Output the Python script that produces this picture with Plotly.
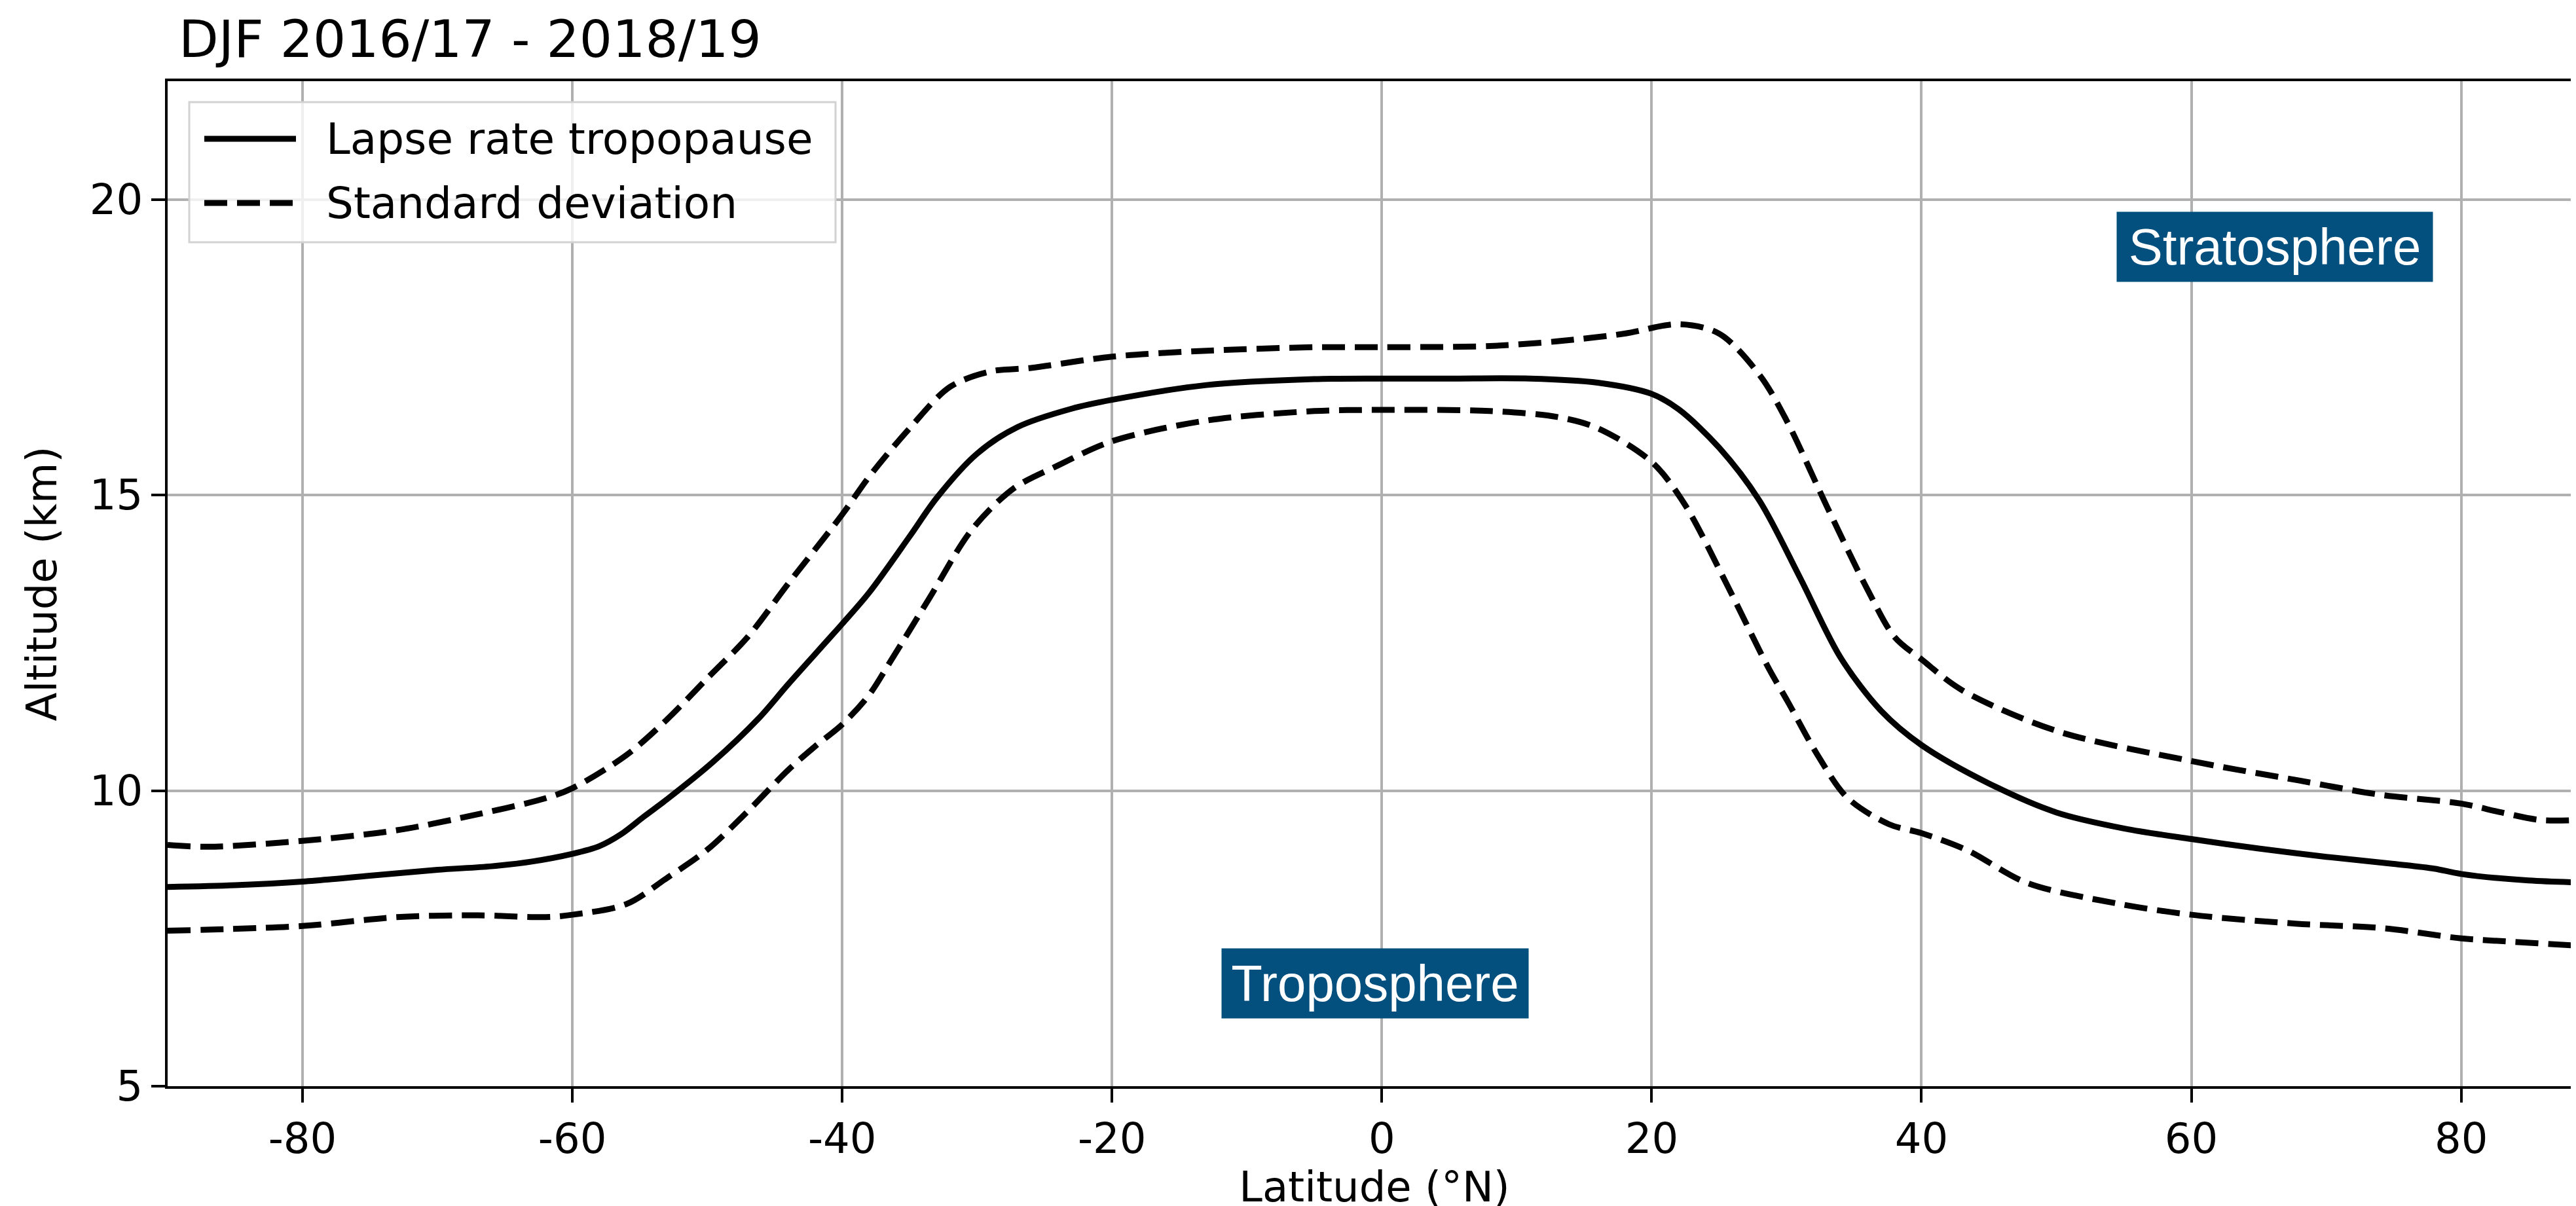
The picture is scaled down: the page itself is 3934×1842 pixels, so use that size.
import plotly.graph_objects as go

# ---------------- data ----------------
lat_mean = [-90, -85, -80, -75, -70, -66, -63, -60, -58, -56.4, -54.7, -53, -49.6, -46.2, -44, -40,
            -38, -35, -33, -30, -27, -23, -20, -13, -5, 0, 5, 11, 16, 20, 22, 25, 28, 31, 34, 37,
            40, 45, 50, 55, 60, 65, 70, 75, 78, 80, 85, 90]
alt_mean = [8.37, 8.40, 8.46, 8.56, 8.66, 8.72, 8.80, 8.93, 9.06, 9.26, 9.56, 9.85, 10.48, 11.22,
            11.80, 12.82, 13.35, 14.30, 14.95, 15.70, 16.15, 16.46, 16.61, 16.86, 16.96, 16.97,
            16.97, 16.97, 16.90, 16.71, 16.45, 15.80, 14.90, 13.60, 12.25, 11.35, 10.77, 10.12,
            9.63, 9.36, 9.18, 9.02, 8.88, 8.76, 8.68, 8.59, 8.48, 8.44]

lat_upper = [-90, -87, -80, -73, -67, -62, -60, -56, -53, -50, -47, -44, -40, -38, -35, -32, -29,
             -26, -20, -13, -5, 0, 8, 13, 18, 22, 25, 28, 30, 33, 36, 38, 40, 43, 50, 60, 68, 74,
             80, 83, 86, 90]
alt_upper = [9.08, 9.05, 9.15, 9.33, 9.60, 9.87, 10.04, 10.60, 11.20, 11.90, 12.60, 13.50, 14.67,
             15.31, 16.13, 16.83, 17.09, 17.15, 17.34, 17.44, 17.50, 17.50, 17.52, 17.60, 17.73,
             17.89, 17.73, 17.03, 16.26, 14.80, 13.40, 12.60, 12.22, 11.70, 11.01, 10.50, 10.17,
             9.93, 9.78, 9.63, 9.50, 9.52]

lat_lower = [-90, -80, -73, -67, -62, -60, -56, -53, -50, -47, -44, -42, -40, -38, -36.6, -33.5,
             -30.4, -27.3, -24, -20, -13, -5, 0, 8, 13, 16, 20, 22.4, 25.5, 28.6, 30.1, 32.3, 34.5,
             37.6, 40, 43.4, 47.8, 54.5, 60, 67.7, 74.3, 80, 83.3, 88.4, 90]
alt_lower = [7.63, 7.71, 7.86, 7.89, 7.86, 7.90, 8.08, 8.52, 9.00, 9.65, 10.35, 10.75, 11.12,
             11.62, 12.12, 13.27, 14.41, 15.11, 15.50, 15.91, 16.26, 16.42, 16.44, 16.42, 16.32,
             16.13, 15.56, 14.86, 13.52, 12.10, 11.50, 10.60, 9.88, 9.43, 9.28, 8.99, 8.44, 8.09,
             7.90, 7.75, 7.67, 7.50, 7.45, 7.38, 7.36]

x_ticks = [-80, -60, -40, -20, 0, 20, 40, 60, 80]
y_ticks = [5, 10, 15, 20]

title_text = "DJF 2016/17 - 2018/19"
legend_labels = ["Lapse rate tropopause", "Standard deviation"]
regions = [("Stratosphere", 66.2, 19.2), ("Troposphere", -0.5, 6.74)]

# ---------------- figure ----------------
W, H = 3934, 1842
L, R, T, B = 248, 3934, 116, 1651


def px_x(p):
    return (p - L) / (R - L)


def px_y(p):
    return (B - p) / (B - T)


FONT = "DejaVu Sans"
DASH = "35px,15px"
LW = 9
SM = 0.9

fig = go.Figure()
fig.add_trace(go.Scatter(x=lat_mean, y=alt_mean, mode="lines", name=legend_labels[0],
                         line=dict(color="black", width=LW, shape="spline", smoothing=SM),
                         showlegend=False))
fig.add_trace(go.Scatter(x=lat_upper, y=alt_upper, mode="lines", name=legend_labels[1],
                         line=dict(color="black", width=LW, dash=DASH, shape="spline", smoothing=SM),
                         showlegend=False))
fig.add_trace(go.Scatter(x=lat_lower, y=alt_lower, mode="lines", name=legend_labels[1] + " (lower)",
                         line=dict(color="black", width=LW, dash=DASH, shape="spline", smoothing=SM),
                         showlegend=False))

# custom legend (matplotlib style, long handles)
shapes = [
    dict(type="rect", xref="paper", yref="paper", x0=px_x(281), x1=px_x(1268),
         y0=px_y(362), y1=px_y(148), line=dict(color="#d2d2d2", width=3),
         fillcolor="rgba(255,255,255,0.8)", layer="above"),
    dict(type="line", xref="paper", yref="paper", x0=px_x(304), x1=px_x(444),
         y0=px_y(204), y1=px_y(204), line=dict(color="black", width=LW), layer="above"),
    dict(type="line", xref="paper", yref="paper", x0=px_x(304), x1=px_x(444),
         y0=px_y(302), y1=px_y(302), line=dict(color="black", width=LW, dash=DASH), layer="above"),
]

annotations = []
for i, (lbl, ypx) in enumerate(zip(legend_labels, [204, 302])):
    annotations.append(dict(text=lbl, xref="paper", yref="paper", x=px_x(488), y=px_y(ypx),
                            xanchor="left", yanchor="middle", showarrow=False,
                            font=dict(family=FONT, size=66, color="black")))

box_w = {"Stratosphere": 466, "Troposphere": 452}
for txt, xv, yv in regions:
    annotations.append(dict(text=txt, x=xv, y=yv, xref="x", yref="y", showarrow=False,
                            xanchor="center", yanchor="middle",
                            font=dict(family="Liberation Sans, Arial", size=78, color="white"),
                            bgcolor="#034f7e", borderpad=8, width=box_w[txt], height=90))

# title (left aligned above axes)
annotations.append(dict(text=title_text, xref="paper", yref="paper", x=px_x(263), y=px_y(52),
                        xanchor="left", yanchor="middle", showarrow=False,
                        font=dict(family=FONT, size=79, color="black")))

fig.update_layout(
    width=W, height=H,
    margin=dict(l=L, r=W - R, t=T, b=H - B, pad=0),
    paper_bgcolor="white", plot_bgcolor="white",
    font=dict(family=FONT, size=64, color="black"),
    shapes=shapes, annotations=annotations,
    showlegend=False,
)
fig.update_xaxes(
    range=[-90, 88.9], tickmode="array", tickvals=x_ticks,
    ticktext=[str(v) for v in x_ticks],
    showgrid=True, gridcolor="#b0b0b0", gridwidth=4,
    showline=True, linecolor="black", linewidth=4, mirror=True,
    ticks="outside", ticklen=21, tickwidth=4, tickcolor="black",
    tickfont=dict(family=FONT, size=64),
    title=dict(text="Latitude (°N)", font=dict(family=FONT, size=64), standoff=14),
    zeroline=False,
)
fig.update_yaxes(
    range=[5, 22], tickmode="array", tickvals=y_ticks,
    showgrid=True, gridcolor="#b0b0b0", gridwidth=4,
    showline=True, linecolor="black", linewidth=4, mirror=False,
    ticks="outside", ticklen=21, tickwidth=4, tickcolor="black",
    tickfont=dict(family=FONT, size=64),
    title=dict(text="Altitude (km)", font=dict(family=FONT, size=64), standoff=30),
    zeroline=False,
)

fig.write_html("out.html")
